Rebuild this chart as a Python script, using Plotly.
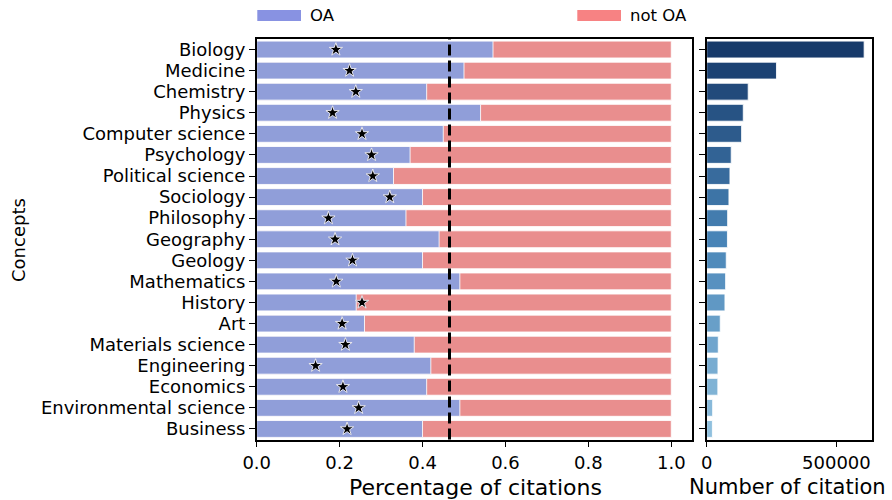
import plotly.graph_objects as go

# Concepts, ordered from top to bottom
concepts = [
    "Biology", "Medicine", "Chemistry", "Physics", "Computer science",
    "Psychology", "Political science", "Sociology", "Philosophy", "Geography",
    "Geology", "Mathematics", "History", "Art", "Materials science",
    "Engineering", "Economics", "Environmental science", "Business",
]

# Share of citations going to open-access papers
oa_share = [
    0.57, 0.50, 0.41, 0.54, 0.45,
    0.37, 0.33, 0.40, 0.36, 0.44,
    0.40, 0.49, 0.24, 0.26, 0.38,
    0.42, 0.41, 0.49, 0.40,
]

# Share of open-access papers (star markers)
oa_paper_share = [
    0.191, 0.224, 0.239, 0.183, 0.254,
    0.277, 0.280, 0.321, 0.173, 0.189,
    0.231, 0.192, 0.254, 0.206, 0.214,
    0.142, 0.208, 0.246, 0.218,
]

# Total number of citations per concept
citations = [
    607000, 269000, 160000, 141000, 134600,
    94600, 89700, 85800, 80800, 80000,
    75400, 73000, 70400, 52300, 44600,
    43500, 43000, 23000, 22000,
]

total_share = [1.0] * len(concepts)
overall_mean = 0.465

legend_labels = ["OA", "not OA"]
x_ticks_left = [0.0, 0.2, 0.4, 0.6, 0.8, 1.0]
x_ticks_right = [0, 500000]

W, H = 892, 500
FONT = "DejaVu Sans"
BLUE_BAR = "#909ed9"
RED_BAR = "#e98e8e"
BLUE_LEG = "#8892e2"
RED_LEG = "#f78283"


def px_x(p):
    return p / W


def px_y(p):
    return 1 - p / H


def blend(stops, t):
    # linear interpolation through a list of hex colour stops
    n = len(stops) - 1
    i = min(int(t * n), n - 1)
    f = t * n - i
    a = [int(stops[i][k:k + 2], 16) for k in (1, 3, 5)]
    b = [int(stops[i + 1][k:k + 2], 16) for k in (1, 3, 5)]
    c = [round(a[j] + (b[j] - a[j]) * f) for j in range(3)]
    return "#%02x%02x%02x" % tuple(c)


blue_stops = ["#173a6a", "#4884b7", "#90c0de"]
n = len(concepts)
bar_colors = [blend(blue_stops, i / (n - 1)) for i in range(n)]

fig = go.Figure()

# full-length "not OA" bars sit behind the OA bars
fig.add_trace(go.Bar(
    y=concepts, x=total_share, orientation="h", name=legend_labels[1],
    marker=dict(color=RED_BAR, line=dict(color="rgba(255,255,255,0.85)", width=1)),
    width=0.8, xaxis="x", yaxis="y", showlegend=False,
))
fig.add_trace(go.Bar(
    y=concepts, x=oa_share, orientation="h", name=legend_labels[0],
    marker=dict(color=BLUE_BAR, line=dict(color="rgba(255,255,255,0.85)", width=1)),
    width=0.8, xaxis="x", yaxis="y", showlegend=False,
))
fig.add_trace(go.Scatter(
    y=concepts, x=oa_paper_share, mode="markers",
    marker=dict(symbol="star", size=10, color="black",
                line=dict(color="#e8e8f0", width=1)),
    xaxis="x", yaxis="y", showlegend=False,
))
fig.add_trace(go.Bar(
    y=concepts, x=citations, orientation="h",
    marker=dict(color=bar_colors, line=dict(color="rgba(255,255,255,0.85)", width=1)),
    width=0.8, xaxis="x2", yaxis="y2", showlegend=False,
))

left_dom = [px_x(256.7), px_x(692)]
right_dom = [px_x(706.7), px_x(872)]
y_dom = [px_y(439.5), px_y(39)]

axis_common = dict(
    showline=True, linecolor="black", linewidth=1.5, mirror=True,
    ticks="outside", ticklen=6, tickwidth=1.3, tickcolor="black",
    showgrid=False, zeroline=False,
    tickfont=dict(family=FONT, size=18, color="black"),
)

fig.update_layout(
    width=W, height=H,
    margin=dict(l=0, r=0, t=0, b=0, autoexpand=False),
    paper_bgcolor="white", plot_bgcolor="white",
    barmode="overlay", bargap=0.2,
    font=dict(family=FONT, color="black"),
    xaxis=dict(domain=left_dom, range=[0, 1.05], tickvals=x_ticks_left,
               ticktext=["%.1f" % v for v in x_ticks_left], anchor="y",
               **axis_common),
    yaxis=dict(domain=y_dom, categoryorder="array", categoryarray=concepts,
               tickmode="array", tickvals=concepts, ticktext=concepts,
               range=[n - 0.5, -0.5], anchor="x", **axis_common),
    xaxis2=dict(domain=right_dom, range=[0, 1.05 * max(citations)],
                tickvals=x_ticks_right, ticktext=[str(v) for v in x_ticks_right],
                anchor="y2", **axis_common),
    yaxis2=dict(domain=y_dom, categoryorder="array", categoryarray=concepts,
                tickmode="array", tickvals=concepts,
                range=[n - 0.5, -0.5], anchor="x2", showticklabels=False,
                **axis_common),
)

# overall reference line
fig.add_shape(type="line", xref="x", yref="paper",
              x0=overall_mean, x1=overall_mean, y0=y_dom[0], y1=y_dom[1],
              line=dict(color="black", width=3, dash="11px,5px"))

# legend patches and labels
legend_items = [
    (legend_labels[0], BLUE_LEG, 257.3, 301),
    (legend_labels[1], RED_LEG, 577.3, 621),
]
for label, col, x0, x1 in legend_items:
    fig.add_shape(type="rect", xref="paper", yref="paper",
                  x0=px_x(x0), x1=px_x(x1), y0=px_y(21), y1=px_y(10),
                  fillcolor=col, line=dict(width=0))
    fig.add_annotation(text=label, xref="paper", yref="paper",
                       x=px_x(x1 + 7), y=px_y(15.5), xanchor="left",
                       yanchor="middle", showarrow=False,
                       font=dict(family=FONT, size=16.5, color="black"))

# axis titles
fig.add_annotation(text="Percentage of citations", xref="paper", yref="paper",
                   x=px_x(475), y=px_y(487), xanchor="center", yanchor="middle",
                   showarrow=False, font=dict(family=FONT, size=22, color="black"))
fig.add_annotation(text="Number of citation", xref="paper", yref="paper",
                   x=px_x(687), y=px_y(487), xanchor="left", yanchor="middle",
                   showarrow=False, font=dict(family=FONT, size=21, color="black"))
fig.add_annotation(text="Concepts", xref="paper", yref="paper",
                   x=px_x(18), y=px_y(240), xanchor="center", yanchor="middle",
                   textangle=-90, showarrow=False,
                   font=dict(family=FONT, size=18, color="black"))

fig.write_html("out.html")
